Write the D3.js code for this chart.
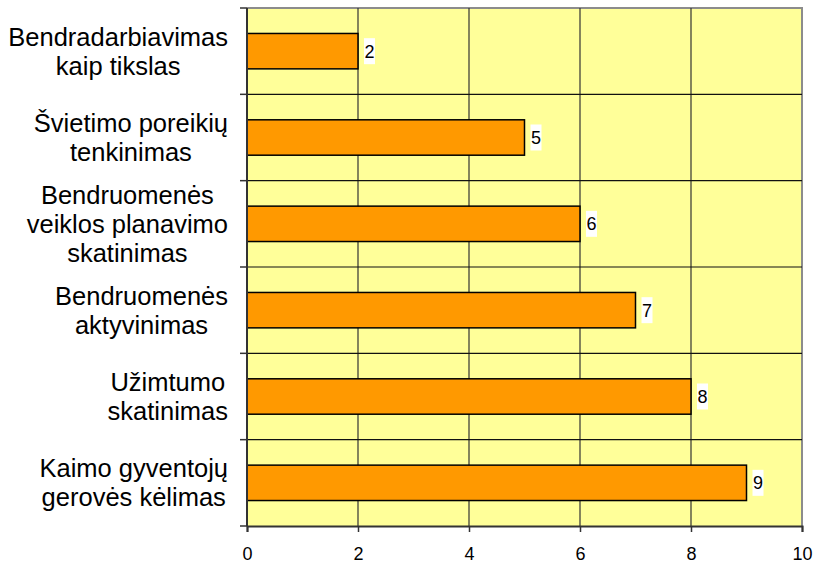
<!DOCTYPE html>
<html lang="lt">
<head>
<meta charset="utf-8">
<title>chart</title>
<script src="https://cdn.jsdelivr.net/npm/d3@7"></script>
<style>
  body { margin: 0; background: #fff; }
  svg { font-family: "Liberation Sans", Arial, sans-serif; }
  .tick text { font-size: 18px; fill: #000; font-family: "Liberation Sans", Arial, sans-serif; }
  .cat { font-size: 25.5px; fill: #000; }
  .val { font-size: 18px; fill: #000; }
</style>
</head>
<body>
<div id="chart"></div>
<script>
// data, top to bottom
var categories = [
  ["Bendradarbiavimas", "kaip tikslas"],
  ["Švietimo poreikių", "tenkinimas"],
  ["Bendruomenės", "veiklos planavimo", "skatinimas"],
  ["Bendruomenės", "aktyvinimas"],
  ["Užimtumo", "skatinimas"],
  ["Kaimo gyventojų", "gerovės kėlimas"]
];
var values = [2, 5, 6, 7, 8, 9];
var xTicks = [0, 2, 4, 6, 8, 10];

var W = 815, H = 565;
var margin = {top: 8, right: 13, bottom: 39, left: 247};
var width = W - margin.left - margin.right,
    height = H - margin.top - margin.bottom;

var svg = d3.select("#chart").append("svg")
  .attr("width", W).attr("height", H);
var g = svg.append("g")
  .attr("transform", "translate(" + margin.left + "," + margin.top + ")");

var x = d3.scaleLinear().domain([0, 10]).range([0, width]);
var y = d3.scaleBand().domain(d3.range(categories.length)).range([0, height]);
var barH = y.bandwidth() * 0.41;

// plot background
g.append("rect")
  .attr("width", width).attr("height", height)
  .attr("fill", "#ffff99");

// border top/right
g.append("path")
  .attr("d", "M0,0H" + width + "V" + height)
  .attr("fill", "none").attr("stroke", "#8c8c8c").attr("stroke-width", 2);

// vertical gridlines
g.selectAll(".vgrid").data(xTicks.slice(1, -1)).enter().append("line")
  .attr("x1", function(d) { return x(d); }).attr("x2", function(d) { return x(d); })
  .attr("y1", 0).attr("y2", height)
  .attr("stroke", "#333").attr("stroke-width", 1.2);

// horizontal lines between categories
g.selectAll(".hgrid").data(d3.range(1, categories.length)).enter().append("line")
  .attr("x1", 0).attr("x2", width)
  .attr("y1", function(i) { return y(i); }).attr("y2", function(i) { return y(i); })
  .attr("stroke", "#111").attr("stroke-width", 1.2);

// bars
g.selectAll(".bar").data(values).enter().append("rect")
  .attr("x", 0)
  .attr("y", function(d, i) { return y(i) + (y.bandwidth() - barH) / 2; })
  .attr("width", function(d) { return x(d); })
  .attr("height", barH)
  .attr("fill", "#ff9900")
  .attr("stroke", "#000").attr("stroke-width", 1.5);

// value labels with white box
var vl = g.selectAll(".vl").data(values).enter().append("g")
  .attr("transform", function(d, i) {
    return "translate(" + (x(d) + 6) + "," + (y(i) + y.bandwidth() / 2) + ")";
  });
vl.append("rect")
  .attr("x", 0).attr("y", -13).attr("width", 11).attr("height", 26)
  .attr("fill", "#fff");
vl.append("text")
  .attr("class", "val")
  .attr("x", 0.5).attr("y", 6.5)
  .text(function(d) { return d; });

// x axis
var xAxis = d3.axisBottom(x).tickValues(xTicks).tickSize(6).tickPadding(15);
g.append("g")
  .attr("transform", "translate(0," + height + ")")
  .call(xAxis)
  .call(function(a) {
    a.attr("font-family", null).attr("font-size", null);
    a.select(".domain").attr("stroke", "#333").attr("stroke-width", 2);
    a.selectAll(".tick line").attr("stroke", "#333").attr("stroke-width", 1.5);
  });

// y axis line + ticks at band edges
g.append("line")
  .attr("x1", 0).attr("x2", 0).attr("y1", 0).attr("y2", height)
  .attr("stroke", "#333").attr("stroke-width", 2);
g.selectAll(".ytick").data(d3.range(categories.length + 1)).enter().append("line")
  .attr("x1", -7).attr("x2", 0)
  .attr("y1", function(i) { return i * y.step(); })
  .attr("y2", function(i) { return i * y.step(); })
  .attr("stroke", "#333").attr("stroke-width", 1.5);

// category labels: block right-aligned, lines centered inside
var lh = 29, rightEdge = -19;
categories.forEach(function(lines, i) {
  var grp = g.append("g");
  var cy = y(i) + y.bandwidth() / 2;
  var t = grp.selectAll("text").data(lines).enter().append("text")
    .attr("class", "cat")
    .attr("text-anchor", "middle")
    .attr("y", function(d, k) { return cy + (k - (lines.length - 1) / 2) * lh + 9; })
    .text(function(d) { return d; });
  var maxW = d3.max(t.nodes(), function(n) { return n.getComputedTextLength(); });
  t.attr("x", rightEdge - maxW / 2);
});
</script>
</body>
</html>
